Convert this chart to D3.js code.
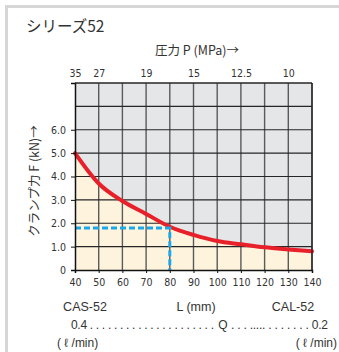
<!DOCTYPE html>
<html><head><meta charset="utf-8">
<script src="https://cdn.jsdelivr.net/npm/d3@7"></script>
<style>
html,body{margin:0;padding:0;background:#fff;}
svg{display:block;}
.cond{font-family:"Liberation Sans Narrow","DejaVu Sans Condensed","Roboto",sans-serif;}
.lat{font-family:"Liberation Sans","Roboto",sans-serif;}
.jp{font-family:"Noto Sans CJK JP","Noto Sans",sans-serif;}
</style></head>
<body>
<script>
// Data
const lengthL = [40, 50, 60, 70, 80, 90, 100, 110, 120, 130, 140];
const forceF  = [5.0, 3.7, 2.95, 2.4, 1.85, 1.5, 1.24, 1.1, 0.97, 0.88, 0.8];
const xTicks = [40, 50, 60, 70, 80, 90, 100, 110, 120, 130, 140];
const yTicks = [0, 1, 2, 3, 4, 5, 6];
const pressureAt = [40, 50, 70, 90, 110, 130];
const pressureLabels = ["35", "27", "19", "15", "12.5", "10"];
const readL = [80];
const readF = [1.8];

const W = 339, H = 352;
const svg = d3.select("body").append("svg").attr("width", W).attr("height", H);

// frame
svg.append("rect").attr("x", 6.5).attr("y", 6.5).attr("width", 400).attr("height", 400)
  .attr("fill", "none").attr("stroke", "#d6d6d6").attr("stroke-width", 3);

const x = d3.scaleLinear().domain([40, 140]).range([75, 312]);
const y = d3.scaleLinear().domain([0, 8]).range([270, 83]);

// backgrounds
svg.append("rect").attr("x", x(40)).attr("y", y(8)).attr("width", x(140) - x(40)).attr("height", y(0) - y(8))
  .attr("fill", "#e5e6e8");
const pts = lengthL.map((l, i) => [l, forceF[i]]);
svg.append("path").datum(pts)
  .attr("d", d3.area().x(d => x(d[0])).y0(y(0)).y1(d => y(d[1])).curve(d3.curveMonotoneX))
  .attr("fill", "#fef4de");

// grid
const g = svg.append("g");
d3.range(50, 141, 10).forEach(v => {
  g.append("line").attr("x1", x(v)).attr("x2", x(v)).attr("y1", y(0)).attr("y2", y(8))
    .attr("stroke", "#5a5a5a").attr("stroke-width", 1.4);
});
d3.range(1, 9, 1).forEach(v => {
  g.append("line").attr("x1", x(40)).attr("x2", x(140)).attr("y1", y(v)).attr("y2", y(v))
    .attr("stroke", "#262626").attr("stroke-width", 1.2);
});

// curve
svg.append("path").datum(pts)
  .attr("d", d3.line().x(d => x(d[0])).y(d => y(d[1])).curve(d3.curveMonotoneX))
  .attr("fill", "none").attr("stroke", "#e8202a").attr("stroke-width", 4).attr("stroke-linecap", "round");

// reading lines
svg.append("path")
  .attr("d", `M${x(40)},${y(readF[0])}H${x(readL[0])}V${y(0)}`)
  .attr("fill", "none").attr("stroke", "#1ba8e8").attr("stroke-width", 3).attr("stroke-dasharray", "6,3");

// axes
const xAxis = svg.append("g").attr("transform", `translate(0,${y(0)})`)
  .call(d3.axisBottom(x).tickValues(xTicks).tickSize(3).tickPadding(6).tickFormat(d3.format("d")));
xAxis.select(".domain").attr("stroke", "#111").attr("stroke-width", 1.5);
xAxis.selectAll(".tick line").attr("stroke", "#111");
xAxis.selectAll("text").attr("class", "cond").attr("font-size", 10.5).attr("fill", "#333");

const yAxis = svg.append("g").attr("transform", `translate(${x(40)},0)`)
  .call(d3.axisLeft(y).tickValues(yTicks).tickSize(4).tickPadding(5).tickFormat(d => d === 0 ? "0" : d3.format(".1f")(d)));
yAxis.select(".domain").attr("stroke", "#111").attr("stroke-width", 1.5);
yAxis.selectAll(".tick line").attr("stroke", "#111");
yAxis.selectAll("text").attr("class", "cond").attr("font-size", 10.5).attr("fill", "#333");

const topAxis = svg.append("g").attr("transform", `translate(0,${y(8)})`)
  .call(d3.axisTop(x).tickValues(pressureAt).tickSize(0).tickPadding(6).tickFormat((d, i) => pressureLabels[i]));
topAxis.select(".domain").remove();
topAxis.selectAll("text").attr("class", "cond").attr("font-size", 10.5).attr("fill", "#333");

// plot border lines
svg.append("line").attr("x1", x(40)).attr("x2", x(140)).attr("y1", y(8)).attr("y2", y(8)).attr("stroke", "#262626").attr("stroke-width", 1.2);
svg.append("line").attr("x1", x(140)).attr("x2", x(140)).attr("y1", y(8)).attr("y2", y(0)).attr("stroke", "#262626").attr("stroke-width", 1.4);

// texts
svg.append("text").attr("class", "jp").attr("x", 26).attr("y", 32).attr("font-size", 15.5).attr("fill", "#333").text("シリーズ52");
svg.append("text").attr("class", "jp").attr("x", 197).attr("y", 55).attr("text-anchor", "middle").attr("font-size", 12.5).attr("fill", "#333").text("圧力 P (MPa)→");
svg.append("text").attr("class", "jp").attr("transform", "translate(39,181) rotate(-90)").attr("text-anchor", "middle").attr("font-size", 12.5).attr("fill", "#333").text("クランプ力 F (kN)→");

svg.append("text").attr("class", "lat").attr("x", 85).attr("y", 311).attr("text-anchor", "middle").attr("font-size", 12.5).attr("fill", "#333").text("CAS-52");
svg.append("text").attr("class", "lat").attr("x", 196).attr("y", 311).attr("text-anchor", "middle").attr("font-size", 12.5).attr("fill", "#333").text("L (mm)");
svg.append("text").attr("class", "lat").attr("x", 293).attr("y", 311).attr("text-anchor", "middle").attr("font-size", 12.5).attr("fill", "#333").text("CAL-52");

svg.append("text").attr("class", "lat").attr("x", 71).attr("y", 329).attr("font-size", 12).attr("fill", "#333")
  .attr("textLength", 143).attr("lengthAdjust", "spacing").text("0.4 . . . . . . . . . . . . . . . . . . . . .");
svg.append("text").attr("class", "lat").attr("x", 223).attr("y", 329).attr("text-anchor", "middle").attr("font-size", 12).attr("fill", "#333").text("Q");
svg.append("text").attr("class", "lat").attr("x", 231).attr("y", 329).attr("font-size", 12).attr("fill", "#333")
  .attr("textLength", 97).attr("lengthAdjust", "spacing").text(". . . ..... . . . . . . . 0.2");

svg.append("text").attr("class", "lat").attr("x", 57).attr("y", 347).attr("font-size", 12).attr("fill", "#333").text("( ℓ /min)");
svg.append("text").attr("class", "lat").attr("x", 337).attr("y", 347).attr("text-anchor", "end").attr("font-size", 12).attr("fill", "#333").text("( ℓ /min)");
</script>
</body></html>
